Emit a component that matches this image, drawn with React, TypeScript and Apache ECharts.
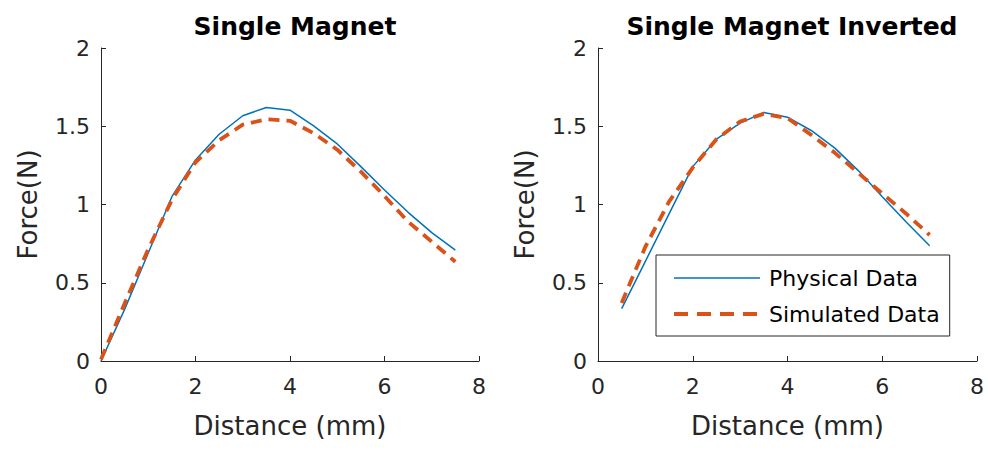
import React, { useEffect, useRef } from "react";
import * as echarts from "echarts";

const distanceLeft = [0, 0.5, 1, 1.5, 2, 2.5, 3, 3.5, 4, 4.5, 5, 5.5, 6, 6.5, 7, 7.5];
const physicalLeft = [0, 0.33, 0.69, 1.05, 1.285, 1.449, 1.567, 1.62, 1.603, 1.503, 1.387, 1.242, 1.093, 0.95, 0.82, 0.709];
const simulatedLeft = [0.01, 0.368, 0.715, 1.03, 1.27, 1.41, 1.51, 1.545, 1.535, 1.456, 1.35, 1.21, 1.054, 0.89, 0.762, 0.634];

const distanceRight = [0.5, 1, 1.5, 2, 2.5, 3, 3.5, 4, 4.5, 5, 5.5, 6, 6.5, 7];
const physicalRight = [0.335, 0.637, 0.94, 1.242, 1.417, 1.52, 1.588, 1.558, 1.473, 1.36, 1.215, 1.05, 0.89, 0.736];
const simulatedRight = [0.371, 0.73, 1.018, 1.236, 1.417, 1.53, 1.58, 1.552, 1.445, 1.33, 1.2, 1.07, 0.943, 0.805];

const titles = ["Single Magnet", "Single Magnet Inverted"];
const seriesNames = ["Physical Data", "Simulated Data"];
const xName = "Distance (mm)";
const yName = "Force(N)";

const FONT = "DejaVu Sans";
const AXIS = "#262626";
const BLUE = "#0072BD";
const ORANGE = "#D95319";

function zip(xs: number[], ys: number[]) {
  return xs.map((x, i) => [x, ys[i]]);
}

export default function App() {
  const ref = useRef<HTMLDivElement>(null);
  useEffect(() => {
    if (!ref.current) return;
    const chart = echarts.init(ref.current, undefined, { renderer: "svg" });
    const grids = [
      { left: 101, top: 48, width: 378, height: 313 },
      { left: 598, top: 48, width: 379, height: 313 },
    ];
    const xAxis = grids.map((_, i) => ({
      type: "value",
      gridIndex: i,
      min: 0,
      max: 8,
      interval: 2,
      name: xName,
      nameLocation: "middle",
      nameGap: 52,
      nameTextStyle: { fontFamily: FONT, fontSize: 26, color: AXIS },
      axisLine: { show: true, lineStyle: { color: AXIS, width: 1 } },
      axisTick: { show: true, inside: true, length: 5, lineStyle: { color: AXIS } },
      axisLabel: { fontFamily: FONT, fontSize: 22, color: AXIS, margin: 14 },
      splitLine: { show: false },
    }));
    const yAxis = grids.map((_, i) => ({
      type: "value",
      gridIndex: i,
      min: 0,
      max: 2,
      interval: 0.5,
      name: yName,
      nameLocation: "middle",
      nameGap: 60,
      nameTextStyle: { fontFamily: FONT, fontSize: 26, color: AXIS },
      axisLine: { show: true, lineStyle: { color: AXIS, width: 1 } },
      axisTick: { show: true, inside: true, length: 5, lineStyle: { color: AXIS } },
      axisLabel: { fontFamily: FONT, fontSize: 22, color: AXIS, margin: 11 },
      splitLine: { show: false },
    }));
    const mk = (name: string, xi: number, data: number[][], dashed: boolean) => ({
      type: "line",
      name,
      xAxisIndex: xi,
      yAxisIndex: xi,
      data,
      symbol: "none",
      showSymbol: false,
      smooth: false,
      lineStyle: dashed
        ? { color: ORANGE, width: 3.8, type: [11, 7] }
        : { color: BLUE, width: 1.5, type: "solid" },
      itemStyle: { color: dashed ? ORANGE : BLUE },
      z: dashed ? 3 : 2,
    });
    chart.setOption({
      animation: false,
      backgroundColor: "#ffffff",
      title: [
        {
          text: titles[0],
          left: 290,
          textAlign: "center",
          top: 9,
          textStyle: { fontFamily: FONT, fontSize: 25, fontWeight: "bold", color: "#000" },
        },
        {
          text: titles[1],
          left: 787,
          textAlign: "center",
          top: 9,
          textStyle: { fontFamily: FONT, fontSize: 25, fontWeight: "bold", color: "#000" },
        },
      ],
      grid: grids,
      xAxis,
      yAxis,
      legend: {
        orient: "vertical",
        left: 656,
        top: 255,
        data: [
          { name: seriesNames[0], lineStyle: { color: BLUE, width: 1.5, type: "solid" } },
          { name: seriesNames[1], lineStyle: { color: ORANGE, width: 4, type: [14, 9] } },
        ],
        itemWidth: 86,
        itemHeight: 20,
        itemGap: 14,
        padding: [12, 10, 11, 16],
        backgroundColor: "#ffffff",
        borderColor: AXIS,
        borderWidth: 1,
        itemStyle: { opacity: 0 },
        textStyle: { fontFamily: FONT, fontSize: 22, color: "#000", padding: [0, 0, 0, 4] },
      },
      series: [
        mk(seriesNames[0], 0, zip(distanceLeft, physicalLeft), false),
        mk(seriesNames[1], 0, zip(distanceLeft, simulatedLeft), true),
        mk(seriesNames[0], 1, zip(distanceRight, physicalRight), false),
        mk(seriesNames[1], 1, zip(distanceRight, simulatedRight), true),
      ],
    });
    return () => chart.dispose();
  }, []);
  return (
    <div
      ref={ref}
      style={{ position: "absolute", left: 0, top: 0, width: 988, height: 452 }}
    />
  );
}
